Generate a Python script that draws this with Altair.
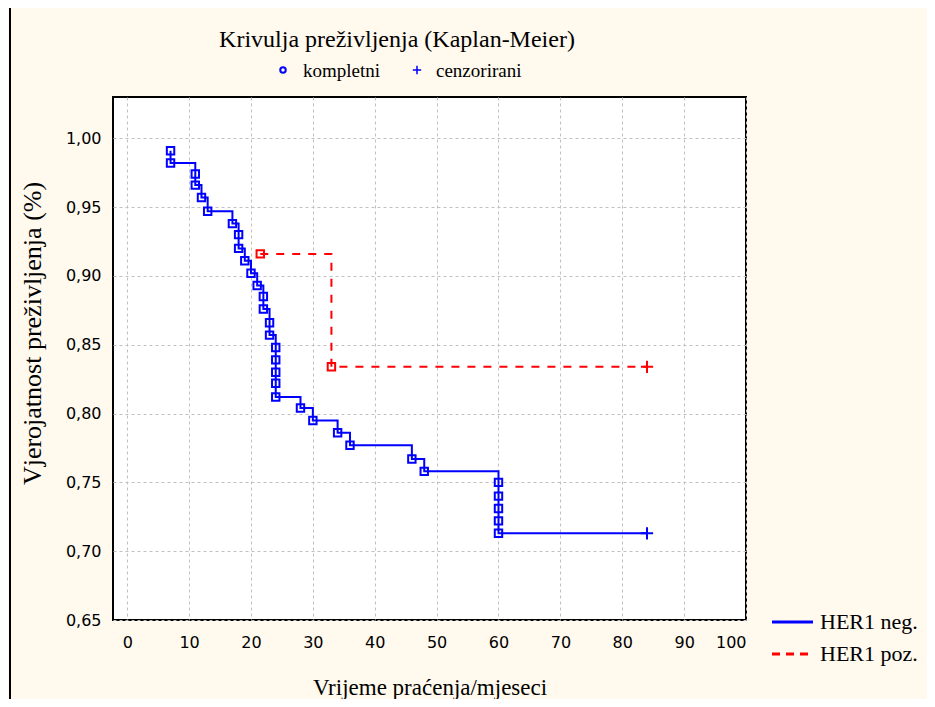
import altair as alt
import pandas as pd

# ---- data ----
blue_t = [7, 7, 11, 11, 12, 13, 17, 18, 18, 19, 20, 21, 22, 22, 23, 23, 24, 24, 24, 24, 24,
          28, 30, 34, 36, 46, 48, 60, 60, 60, 60, 60]
blue_s = [0.991, 0.982, 0.974, 0.966, 0.957, 0.947, 0.938, 0.930, 0.920, 0.911, 0.902, 0.893,
          0.885, 0.876, 0.866, 0.857, 0.848, 0.839, 0.830, 0.822, 0.812,
          0.804, 0.795, 0.786, 0.777, 0.767, 0.758, 0.750, 0.740, 0.731, 0.722, 0.713]
blue_cens_t = [84]
blue_cens_s = [0.713]

red_t = [21.5, 33]
red_s = [0.916, 0.834]
red_cens_t = [84]
red_cens_s = [0.834]

x_ticks = [0, 10, 20, 30, 40, 50, 60, 70, 80, 90, 100]
y_ticks = [0.65, 0.70, 0.75, 0.80, 0.85, 0.90, 0.95, 1.00]

title_text = "Krivulja preživljenja (Kaplan-Meier)"
sub_labels = ["kompletni", "cenzorirani"]
legend_labels = ["HER1 neg.", "HER1 poz."]
x_title = "Vrijeme praćenja/mjeseci"
y_title = "Vjerojatnost preživljenja (%)"

BLUE = "#0000FF"
RED = "#FF0000"
SERIF = "Liberation Serif"
SANS = "DejaVu Sans"
PLUS = "M-1,0L1,0M0,-1L0,1"

# ---- tables ----
blue_line = pd.DataFrame({"t": blue_t + blue_cens_t, "s": blue_s + blue_cens_s})
blue_line["i"] = range(len(blue_line))
red_line = pd.DataFrame({"t": red_t + red_cens_t, "s": red_s + red_cens_s})
red_line["i"] = range(len(red_line))
blue_pts = pd.DataFrame({"t": blue_t, "s": blue_s})
red_pts = pd.DataFrame({"t": red_t, "s": red_s})
cens = pd.DataFrame({"t": blue_cens_t + red_cens_t, "s": blue_cens_s + red_cens_s,
                     "g": ["neg"] * len(blue_cens_t) + ["poz"] * len(red_cens_t)})

x_enc = alt.X("t:Q", scale=alt.Scale(domain=[-2.3, 100], nice=False, zero=False),
              axis=alt.Axis(values=x_ticks, title=x_title, format="d",
                            labelPadding=14, titlePadding=26))
y_enc = alt.Y("s:Q", scale=alt.Scale(domain=[0.65, 1.03], nice=False, zero=False),
              axis=alt.Axis(values=y_ticks, title=y_title,
                            labelExpr="replace(format(datum.value, '.2f'), '.', ',')",
                            labelPadding=12, titleX=-81, titleY=236, titleFontSize=26,
                            titleBaseline="middle", titleAngle=270))

lb = alt.Chart(blue_line).mark_line(color=BLUE, strokeWidth=2, interpolate="step-after").encode(
    x=x_enc, y=y_enc, order="i:Q")
lr = alt.Chart(red_line).mark_line(color=RED, strokeWidth=2, strokeDash=[8, 8],
                                   interpolate="step-after").encode(x=x_enc, y=y_enc, order="i:Q")
pb = alt.Chart(blue_pts).mark_point(shape="square", filled=False, color=BLUE, size=55,
                                    strokeWidth=2, opacity=1).encode(x=x_enc, y=y_enc)
pr = alt.Chart(red_pts).mark_point(shape="square", filled=False, color=RED, size=55,
                                   strokeWidth=2, opacity=1).encode(x=x_enc, y=y_enc)
pc = alt.Chart(cens).mark_point(shape=PLUS, filled=False, size=150, strokeWidth=2,
                                opacity=1).encode(
    x=x_enc, y=y_enc,
    stroke=alt.Stroke("g:N", scale=alt.Scale(domain=["neg", "poz"], range=[BLUE, RED]), legend=None))

one = pd.DataFrame({"a": [0]})

def txt(s, x, y, size, align="left", baseline="alphabetic"):
    return alt.Chart(one).mark_text(text=s, font=SERIF, fontSize=size, align=align,
                                    baseline=baseline, color="black").encode(
        x=alt.value(x), y=alt.value(y))

title = txt(title_text, 284, -50, 24, align="center")
sub1 = txt(sub_labels[0], 190, -20, 19)
sub2 = txt(sub_labels[1], 323, -20, 19)
sym1 = alt.Chart(one).mark_point(shape="circle", filled=False, color=BLUE, size=30,
                                 strokeWidth=2, opacity=1).encode(x=alt.value(170), y=alt.value(-27))
sym2 = alt.Chart(one).mark_point(shape=PLUS, filled=False, color=BLUE, size=70,
                                 strokeWidth=1.5, opacity=1).encode(x=alt.value(304), y=alt.value(-27))

leg_l1 = alt.Chart(one).mark_rule(color=BLUE, strokeWidth=3).encode(
    x=alt.value(659), x2=alt.value(700), y=alt.value(525))
leg_l2 = alt.Chart(one).mark_rule(color=RED, strokeWidth=3, strokeDash=[8, 6]).encode(
    x=alt.value(659), x2=alt.value(700), y=alt.value(557))
leg_t1 = txt(legend_labels[0], 707, 525, 22, baseline="middle")
leg_t2 = txt(legend_labels[1], 707, 557, 22, baseline="middle")

frame = alt.Chart(one).mark_rule(color="black", strokeWidth=2).encode(
    x=alt.value(-103), y=alt.value(-89), y2=alt.value(602))

chart = alt.layer(lb, lr, pb, pr, pc, title, sub1, sub2, sym1, sym2,
                  leg_l1, leg_l2, leg_t1, leg_t2, frame).properties(
    width=633, height=523,
    padding={"left": 105, "top": 89, "right": 181, "bottom": 79},
    autosize=alt.AutoSizeParams(type="none"),
    background="#FFF9EE",
).configure_view(
    fill="white", stroke="black", strokeWidth=2
).configure_axis(
    domain=False, ticks=False, grid=True, gridColor="#C0C0C0", gridDash=[3, 3], gridWidth=1,
    labelFont=SANS, labelFontSize=16, labelColor="black",
    titleFont=SERIF, titleFontSize=23, titleFontWeight="normal", titleColor="black",
)

chart.save("out.html", embed_options={"renderer": "svg", "actions": False})
